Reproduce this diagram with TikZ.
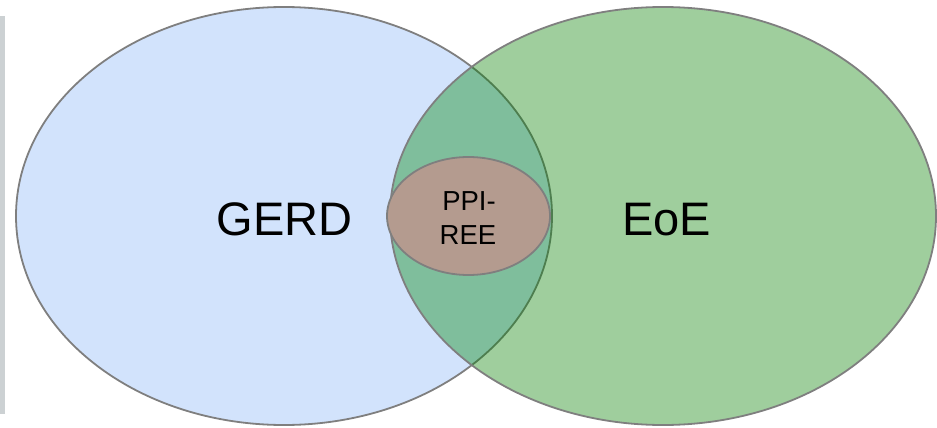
\documentclass[tikz,border=0pt]{standalone}
\usepackage{fontspec}
\setmainfont{Liberation Sans}
\usepackage{tikz}
\usetikzlibrary{calc}

\definecolor{gerdblue}{HTML}{D2E3FC}
\definecolor{eoegreen}{HTML}{9FCE9D}
\definecolor{lensgreen}{HTML}{7FBE9C}
\definecolor{darkline}{HTML}{4E7E4F}
\definecolor{ppibrown}{HTML}{B49B8F}
\definecolor{rimgray}{HTML}{7F7F7F}
\definecolor{bargray}{HTML}{CCD1D3}

\tikzset{
  rim/.style = {draw=rimgray, line width=1.8pt},
  biglabel/.style = {anchor=base, inner sep=0pt, font=\fontsize{47}{56}\selectfont},
  smalllabel/.style = {anchor=base, inner sep=0pt, font=\fontsize{27.5}{34}\selectfont}
}

\begin{document}
\begin{tikzpicture}[x=1pt, y=-1pt]
\useasboundingbox (0,0) rectangle (937,428);

% Define coordinates
\coordinate (G) at (284,216);   % centre of GERD set
\coordinate (E) at (663,216);   % centre of EoE set
\coordinate (P) at (468.5,216); % centre of PPI-REE set

% Grey bar at the left border
\fill[bargray] (0,16) rectangle (5,414);

% GERD set
\fill[gerdblue] (G) ellipse [x radius=268, y radius=209];
\draw[rim] (G) ellipse [x radius=268, y radius=209];

% EoE set
\fill[eoegreen] (E) ellipse [x radius=273, y radius=209];

% overlap of both sets
\begin{scope}
  \clip (E) ellipse [x radius=273, y radius=209];
  \fill[lensgreen] (G) ellipse [x radius=268, y radius=209];
  \draw[draw=darkline, line width=1.8pt] (G) ellipse [x radius=268, y radius=209];
\end{scope}
\draw[rim] (E) ellipse [x radius=273, y radius=209];

% PPI-REE set inside the overlap
\fill[ppibrown] (P) ellipse [x radius=81.5, y radius=59];
\draw[rim] (P) ellipse [x radius=81.5, y radius=59];

% labels
\node[biglabel] (gerd) at (284.5,235) {GERD};
\node[biglabel] (eoe) at (666.5,235) {EoE};
\node[smalllabel] (ppi) at (469,210) {PPI-};
\node[smalllabel] (ree) at (468,244) {REE};

\end{tikzpicture}
\end{document}
